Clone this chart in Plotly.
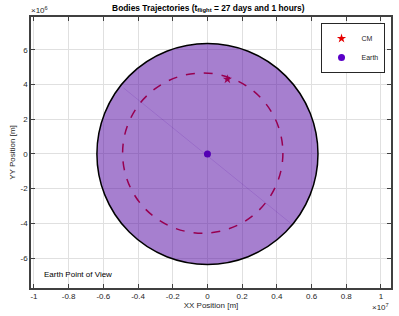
import plotly.graph_objects as go

# ---- data (metres) ----
earth_radius = 6.371e6
earth_center_x = [0.0]
earth_center_y = [0.0]
cm_x = [1.15e6]
cm_y = [4.31e6]
# CM trajectory seen from Earth (ellipse: center and semi-axes)
orbit_center = (-0.27e6, 0.05e6)
orbit_semi_axes = (4.62e6, 4.62e6)
# faint chord seen inside the Earth disk
chord_x = [-4.84e6, 4.78e6]
chord_y = [3.81e6, -3.98e6]

x_tick_vals = [-1e7, -0.8e7, -0.6e7, -0.4e7, -0.2e7, 0, 0.2e7, 0.4e7, 0.6e7, 0.8e7, 1e7]
x_tick_text = ["-1", "-0.8", "-0.6", "-0.4", "-0.2", "0", "0.2", "0.4", "0.6", "0.8", "1"]
y_tick_vals = [-6e6, -4e6, -2e6, 0, 2e6, 4e6, 6e6]
y_tick_text = ["-6", "-4", "-2", "0", "2", "4", "6"]

FONT = "Liberation Sans, Arial, sans-serif"

fig = go.Figure()

fig.add_trace(go.Scatter(
    x=chord_x, y=chord_y, mode="lines",
    line=dict(color="rgba(78,0,160,0.15)", width=1),
    showlegend=False, hoverinfo="skip"))

fig.add_trace(go.Scatter(
    x=cm_x, y=cm_y, mode="markers", name="CM",
    marker=dict(symbol="star", size=7, color="#E60000")))
fig.add_trace(go.Scatter(
    x=earth_center_x, y=earth_center_y, mode="markers", name="Earth",
    marker=dict(symbol="circle", size=7, color="#5A00C8")))

# CM trajectory (under the Earth disk)
fig.add_shape(type="circle", xref="x", yref="y", layer="between",
              x0=orbit_center[0] - orbit_semi_axes[0], x1=orbit_center[0] + orbit_semi_axes[0],
              y0=orbit_center[1] - orbit_semi_axes[1], y1=orbit_center[1] + orbit_semi_axes[1],
              line=dict(color="#E00000", width=1.5, dash="dash"))
# Earth disk (translucent, drawn on top)
fig.add_shape(type="circle", xref="x", yref="y", layer="above",
              x0=earth_center_x[0] - earth_radius, x1=earth_center_x[0] + earth_radius,
              y0=earth_center_y[0] - earth_radius, y1=earth_center_y[0] + earth_radius,
              fillcolor="rgba(78,0,160,0.5)",
              line=dict(color="black", width=1.5))

axis_common = dict(
    showgrid=True, gridcolor="#e0e0e0", gridwidth=1,
    zeroline=False, showline=True, linecolor="#404040", linewidth=1.5,
    mirror="allticks", ticks="inside", ticklen=4, tickcolor="#404040",
    tickfont=dict(family=FONT, size=8, color="#262626"),
    automargin=False,
)

fig.update_xaxes(range=[-1.017e7, 1.058e7], tickvals=x_tick_vals, ticktext=x_tick_text,
                 title=dict(text="XX Position [m]", font=dict(family=FONT, size=8, color="#262626"),
                            standoff=2),
                 **axis_common)
fig.update_yaxes(range=[-7.73e6, 7.9e6], tickvals=y_tick_vals, ticktext=y_tick_text,
                 title=dict(text="YY Position [m]", font=dict(family=FONT, size=8, color="#262626"),
                            standoff=4),
                 **axis_common)

fig.update_layout(
    width=399, height=316,
    margin=dict(l=31, r=8, t=17, b=28),
    paper_bgcolor="white", plot_bgcolor="white",
    title=dict(text="<b>Bodies Trajectories (t<sub>flight</sub> = 27 days and 1 hours)</b>",
               x=0.522, xanchor="center", y=0.985, yanchor="top",
               font=dict(family=FONT, size=8.4, color="black")),
    legend=dict(x=0.982, xanchor="right", y=0.978, yanchor="top",
                bgcolor="white", bordercolor="#262626", borderwidth=1,
                font=dict(family=FONT, size=7, color="#262626"),
                itemwidth=30, tracegroupgap=0),
    font=dict(family=FONT),
    annotations=[
        dict(text="×10<sup>6</sup>", xref="paper", yref="paper", x=-0.005, y=1.0,
             xanchor="left", yanchor="bottom", showarrow=False,
             font=dict(family=FONT, size=8, color="#262626")),
        dict(text="×10<sup>7</sup>", xref="paper", yref="paper", x=1.0, y=-0.045,
             xanchor="right", yanchor="top", showarrow=False,
             font=dict(family=FONT, size=8, color="#262626")),
        dict(text="Earth Point of View", xref="paper", yref="paper", x=0.03, y=0.05,
             xanchor="left", yanchor="middle", showarrow=False,
             font=dict(family=FONT, size=8, color="black")),
    ],
)

fig.write_html("out.html", config={"displayModeBar": False},
               post_script="document.body.style.margin='0';document.body.style.overflow='hidden';")
